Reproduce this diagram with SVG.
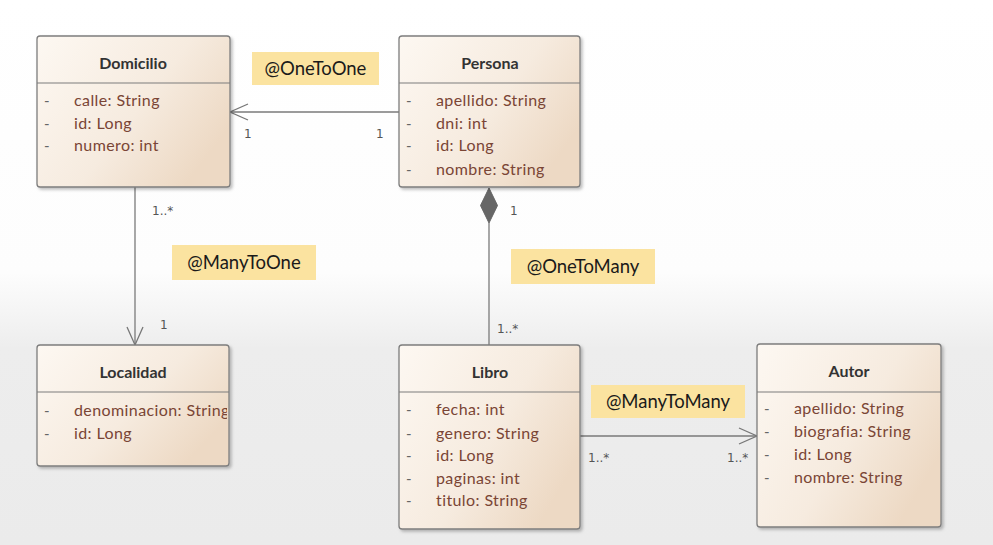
<svg xmlns="http://www.w3.org/2000/svg" width="993" height="545" viewBox="0 0 993 545">
<defs>
<linearGradient id="bg" x1="0" y1="0" x2="0" y2="1">
<stop offset="0" stop-color="#ffffff"/>
<stop offset="0.5" stop-color="#fdfdfd"/>
<stop offset="0.64" stop-color="#ededed"/>
<stop offset="1" stop-color="#ebebeb"/>
</linearGradient>
<linearGradient id="box" x1="0" y1="0" x2="1" y2="0.6">
<stop offset="0" stop-color="#fdf8f2"/>
<stop offset="0.6" stop-color="#f6ebdf"/>
<stop offset="1" stop-color="#edd9c4"/>
</linearGradient>
<filter id="sh" x="-10%" y="-10%" width="130%" height="130%">
<feDropShadow dx="2" dy="2" stdDeviation="1.5" flood-color="#000" flood-opacity="0.25"/>
</filter>
<clipPath id="locclip"><rect x="37" y="392" width="190" height="74"/></clipPath>
<marker id="open" markerWidth="22" markerHeight="20" refX="20" refY="10" orient="auto" markerUnits="userSpaceOnUse">
<path d="M2,2 L20,10 L2,18" fill="none" stroke="#777" stroke-width="1.3"/>
</marker>
</defs>
<style>
.frame{fill:url(#box);stroke:#7d7d7d;stroke-width:1.3;filter:url(#sh)}
.div{stroke:#7d7d7d;stroke-width:1.2}
.title{font-family:Lato,"Open Sans",sans-serif;font-size:16px;font-weight:bold;fill:#333;text-anchor:middle}
.attr{font-family:Lato,"Open Sans",sans-serif;font-size:16px;letter-spacing:0.4px;fill:#7a4535}
.dash{font-family:Lato,sans-serif;font-size:15px;fill:#666}
.line{stroke:#7a7a7a;stroke-width:1.3;fill:none}
.mult{font-family:"DejaVu Sans",sans-serif;font-size:12px;fill:#555}
.tag{fill:#fbe3a0}
.tagt{font-family:Lato,"Open Sans",sans-serif;font-size:18.5px;fill:#1a1a1a;text-anchor:middle}
</style>
<rect width="993" height="545" fill="url(#bg)"/>

<g id="connectors">
<line class="line" x1="399" y1="112" x2="230" y2="112" marker-end="url(#open)"/>
<line class="line" x1="135" y1="187" x2="135" y2="345" marker-end="url(#open)"/>
<line class="line" x1="489" y1="223" x2="489" y2="345"/>
<path d="M489,188 L497.5,205.5 L489,223 L480.5,205.5 Z" fill="#666" stroke="#666" stroke-width="1"/>
<line class="line" x1="580" y1="436" x2="757" y2="436" marker-end="url(#open)"/>
<text class="mult" x="244" y="138">1</text>
<text class="mult" x="376" y="138">1</text>
<text class="mult" x="152" y="215">1..*</text>
<text class="mult" x="160" y="329">1</text>
<text class="mult" x="510" y="215">1</text>
<text class="mult" x="497" y="333">1..*</text>
<text class="mult" x="588" y="462">1..*</text>
<text class="mult" x="727" y="462">1..*</text>
<rect class="tag" x="252" y="52" width="127" height="33"/>
<text class="tagt" x="315.5" y="75">@OneToOne</text>
<rect class="tag" x="172" y="245" width="144" height="35"/>
<text class="tagt" x="244" y="269">@ManyToOne</text>
<rect class="tag" x="511" y="249" width="144" height="35"/>
<text class="tagt" x="583" y="273">@OneToMany</text>
<rect class="tag" x="591" y="385" width="154" height="33"/>
<text class="tagt" x="668" y="408">@ManyToMany</text>
</g>

<g id="domicilio">
<rect class="frame" x="37" y="36" width="193" height="151" rx="3"/>
<line class="div" x1="37" y1="83" x2="230" y2="83"/>
<text class="title" x="133" y="69">Domicilio</text>
<text class="dash" x="44" y="106">-</text><text class="attr" x="74" y="106">calle: String</text>
<text class="dash" x="44" y="129">-</text><text class="attr" x="74" y="129">id: Long</text>
<text class="dash" x="44" y="151">-</text><text class="attr" x="74" y="151">numero: int</text>
</g>

<g id="persona">
<rect class="frame" x="399" y="36" width="181" height="151" rx="3"/>
<line class="div" x1="399" y1="83" x2="580" y2="83"/>
<text class="title" x="490" y="69">Persona</text>
<text class="dash" x="406" y="106">-</text><text class="attr" x="436" y="106">apellido: String</text>
<text class="dash" x="406" y="129">-</text><text class="attr" x="436" y="129">dni: int</text>
<text class="dash" x="406" y="151">-</text><text class="attr" x="436" y="151">id: Long</text>
<text class="dash" x="406" y="175">-</text><text class="attr" x="436" y="175">nombre: String</text>
</g>

<g id="localidad">
<rect class="frame" x="37" y="345" width="192" height="121" rx="3"/>
<line class="div" x1="37" y1="392" x2="229" y2="392"/>
<text class="title" x="133" y="378">Localidad</text>
<g clip-path="url(#locclip)">
<text class="dash" x="44" y="416">-</text><text class="attr" x="74" y="416">denominacion: String</text>
<text class="dash" x="44" y="439">-</text><text class="attr" x="74" y="439">id: Long</text>
</g>
</g>

<g id="libro">
<rect class="frame" x="399" y="345" width="181" height="184" rx="3"/>
<line class="div" x1="399" y1="392" x2="580" y2="392"/>
<text class="title" x="490" y="378">Libro</text>
<text class="dash" x="406" y="415">-</text><text class="attr" x="436" y="415">fecha: int</text>
<text class="dash" x="406" y="439">-</text><text class="attr" x="436" y="439">genero: String</text>
<text class="dash" x="406" y="461">-</text><text class="attr" x="436" y="461">id: Long</text>
<text class="dash" x="406" y="484">-</text><text class="attr" x="436" y="484">paginas: int</text>
<text class="dash" x="406" y="506">-</text><text class="attr" x="436" y="506">titulo: String</text>
</g>

<g id="autor">
<rect class="frame" x="757" y="344" width="184" height="183" rx="3"/>
<line class="div" x1="757" y1="392" x2="941" y2="392"/>
<text class="title" x="849" y="377">Autor</text>
<text class="dash" x="764" y="414">-</text><text class="attr" x="794" y="414">apellido: String</text>
<text class="dash" x="764" y="437">-</text><text class="attr" x="794" y="437">biografia: String</text>
<text class="dash" x="764" y="460">-</text><text class="attr" x="794" y="460">id: Long</text>
<text class="dash" x="764" y="483">-</text><text class="attr" x="794" y="483">nombre: String</text>
</g>
</svg>
